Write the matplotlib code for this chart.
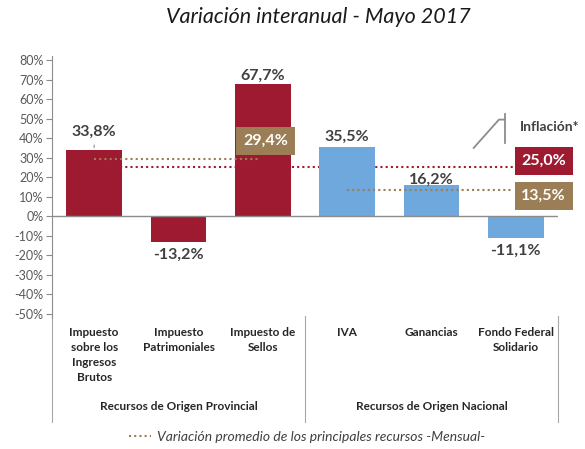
import matplotlib
matplotlib.use("Agg")
import matplotlib.pyplot as plt
from matplotlib.lines import Line2D
from matplotlib.transforms import blended_transform_factory

# data
categories = ["Impuesto\nsobre los\nIngresos\nBrutos", "Impuesto\nPatrimoniales",
              "Impuesto de\nSellos", "IVA", "Ganancias", "Fondo Federal\nSolidario"]
values = [33.8, -13.2, 67.7, 35.5, 16.2, -11.1]
groups = ["Recursos de Origen Provincial", "Recursos de Origen Nacional"]
avg_provincial = 29.4
avg_nacional = 13.5
inflacion = 25.0

RED = "#9E1A31"
BLUE = "#6FA8DC"
BROWN = "#9B7E55"
TXT = "#404040"
GRAY = "#8C8C8C"


def pct(v):
    return f"{v:.1f}".replace(".", ",") + "%"


def main():
    plt.rcParams['font.family'] = ['Lato', 'DejaVu Sans']
    fig = plt.figure(figsize=(5.85, 4.49), dpi=100)
    ax = fig.add_axes([52 / 585, 1 - 314 / 449, 506 / 585, 254 / 449])

    x = list(range(len(values)))
    colors = [RED] * 3 + [BLUE] * 3
    ax.bar(x, values, width=0.66, color=colors, zorder=2)

    # average lines and inflation line
    dots = (0, (1, 1.5))
    ax.plot([0, 5.02], [inflacion, inflacion], color=RED, lw=1.5, ls=dots, zorder=1)
    ax.plot([0, 1.96], [avg_provincial] * 2, color=BROWN, lw=1.5, ls=dots, zorder=3)
    ax.plot([3, 4.97], [avg_nacional] * 2, color=BROWN, lw=1.5, ls=dots, zorder=3)

    # value boxes (placed a little off their lines, as in the original)
    box = dict(boxstyle="square,pad=0.42", lw=0)
    ax.text(2.03, avg_provincial + 9.1, pct(avg_provincial), ha="center", va="center",
            color="white", fontsize=11.5, fontweight="bold",
            bbox=dict(box, fc=BROWN), zorder=4)
    ax.text(5.33, inflacion + 3.3, pct(inflacion), ha="center", va="center",
            color="white", fontsize=11.5, fontweight="bold",
            bbox=dict(box, fc=RED), zorder=4, clip_on=False)
    ax.text(5.33, avg_nacional - 3.0, pct(avg_nacional), ha="center", va="center",
            color="white", fontsize=11.5, fontweight="bold",
            bbox=dict(box, fc=BROWN), zorder=4, clip_on=False)

    # bar value labels
    offsets = [11, -6, 1, 3, -2, -6]
    for xi, v, off in zip(x, values, offsets):
        ax.annotate(pct(v), (xi, v), xytext=(0, off), textcoords="offset pixels",
                    ha="center", va="bottom" if v > 0 else "top",
                    fontsize=11.5, fontweight="bold", color=TXT, zorder=5)
    ax.annotate("", (0, values[0]), xytext=(0, values[0] + 4.1),
                arrowprops=dict(arrowstyle="-", color=GRAY, lw=0.8))

    # Inflacion label with its leader line
    ax.text(5.05, 45.6, "Inflación*", ha="left", va="center", fontsize=10,
            fontweight="bold", color=TXT, clip_on=False)
    ax.plot([4.5, 4.8, 4.87], [35, 49.5, 49.5], color=GRAY, lw=1.3, zorder=5)
    ax.plot([4.87, 4.87], [52.5, 37.5], color=GRAY, lw=1.3, zorder=5)

    ax.set_xlim(-0.5, 5.5)
    ax.set_ylim(-50, 80)
    ax.axhline(0, color=GRAY, lw=1, zorder=3)
    ax.set_yticks(range(-50, 81, 10))
    ax.set_yticklabels([f"{t}%" for t in range(-50, 81, 10)], fontsize=9, color="#595959")
    ax.tick_params(axis="y", length=4, color=GRAY, pad=2)
    ax.set_xticks(x)
    ax.set_xticklabels(categories, fontsize=8.5, fontweight="bold", color="#262626",
                       linespacing=1.45, va="top")
    ax.tick_params(axis="x", length=0, pad=9)
    for s in ["top", "right", "bottom"]:
        ax.spines[s].set_visible(False)
    ax.spines["left"].set_color(GRAY)
    ax.spines["left"].set_bounds(-52, 82)

    # group separators and group labels
    tr = blended_transform_factory(ax.transData, fig.transFigure)
    for sx in [-0.5, 2.5, 5.5]:
        ax.plot([sx, sx], [1 - 316 / 449, 1 - 422 / 449], color="#A6A6A6", lw=0.8,
                transform=tr, clip_on=False)
    for gx, g in zip([1, 4], groups):
        ax.text(gx, 1 - 406 / 449, g, transform=tr, ha="center", va="center",
                fontsize=8.5, fontweight="bold", color="#262626")

    fig.text(0.545, 1 - 17 / 449, "Variación interanual - Mayo 2017", ha="center",
             va="center", fontsize=15.5, style="italic", color="#1A1A1A")

    handle = Line2D([], [], color=BROWN, lw=1.5, ls=dots)
    fig.legend([handle], ["Variación promedio de los principales recursos -Mensual-"],
               loc="center", bbox_to_anchor=(0.525, 1 - 437 / 449), frameon=False,
               handlelength=1.6, handletextpad=0.4,
               prop=dict(style="italic", size=10), labelcolor="#404040")

    fig.savefig("out.png", dpi=100)


if __name__ == "__main__":
    main()
